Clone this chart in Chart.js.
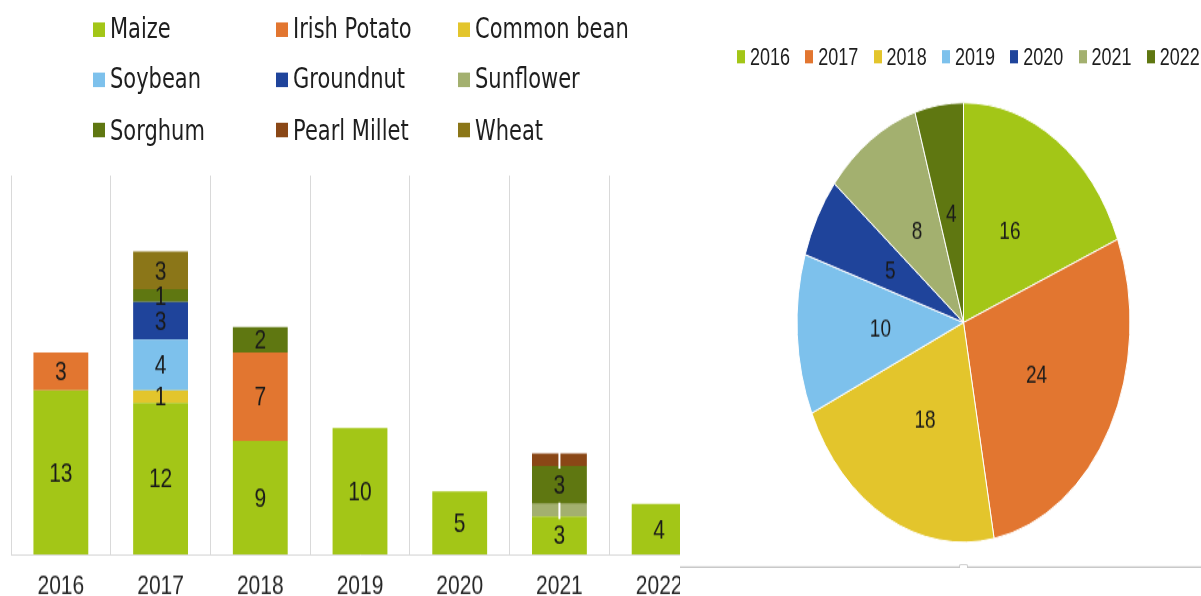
<!DOCTYPE html>
<html>
<head>
<meta charset="utf-8">
<script src="https://cdn.jsdelivr.net/npm/chart.js@4.4.0/dist/chart.umd.min.js"></script>
<style>
html, body { margin: 0; padding: 0; background: #fff; overflow: hidden; }
/* the source picture is stretched vertically, so the whole page is too */
#page { position: absolute; left: 0; top: 0; width: 1201px; height: 452px;
        transform: scaleY(1.32); transform-origin: 0 0; color: #1e1e1e; }
#barWrap { position: absolute; left: 0; top: 0; width: 720px; height: 460px; }
.legItem { position: absolute; display: flex; align-items: center; white-space: nowrap; }
#barLegend .legItem { font: 21px "DejaVu Sans", sans-serif; height: 24px; line-height: 24px; }
#barLegend .box { width: 12px; height: 11px; margin-right: 5px; }
#piePanel { position: absolute; left: 680px; top: 0; width: 521px; height: 452px; background: #fff; overflow: hidden; }
#pieWrap { position: absolute; left: 0; top: 0; width: 567px; height: 452px; }
#pieLegend .legItem { font: 18px "Liberation Sans", Arial, sans-serif; height: 20px; line-height: 20px; }
#pieLegend .box { width: 8px; height: 10px; margin-right: 5px; }
#pieLine { position: absolute; left: 0; top: 429px; width: 521px; border-top: 1px solid #c8c8c8; }
#notch { position: absolute; left: 279px; top: 427px; width: 7px; height: 2px; border: 1px solid #c8c8c8; border-bottom: none; border-radius: 2px 2px 0 0; background: #fff; }
</style>
</head>
<body>
<div id="page">
  <div id="barWrap"><canvas id="barChart"></canvas></div>
  <div id="barLegend"></div>
  <div id="piePanel">
    <div id="pieWrap"><canvas id="pieChart"></canvas></div>
    <div id="pieLine"></div>
    <div id="notch"></div>
  </div>
  <div id="pieLegend"></div>
</div>
<script>
const years = ['2016', '2017', '2018', '2019', '2020', '2021', '2022'];

const maize       = [13, 12, 9, 10, 5, 3, 4];
const irishPotato = [3, null, 7, null, null, null, null];
const commonBean  = [null, 1, null, null, null, null, null];
const soybean     = [null, 4, null, null, null, null, null];
const groundnut   = [null, 3, null, null, null, null, null];
const sunflower   = [null, null, null, null, null, 1, null];
const sorghum     = [null, 1, 2, null, null, 3, null];
const pearlMillet = [null, null, null, null, null, 1, null];
const wheat       = [null, 3, null, null, null, null, null];

const yearTotals = [16, 24, 18, 10, 5, 8, 4];

// labels that the original leaves out (a white leader mark instead)
const hiddenLabels = [['Sunflower', '2021'], ['Pearl Millet', '2021']];

const crops = [
    { label: 'Maize', data: maize, color: '#a3c617' },
    { label: 'Irish Potato', data: irishPotato, color: '#e27630' },
    { label: 'Common bean', data: commonBean, color: '#e3c52c' },
    { label: 'Soybean', data: soybean, color: '#7dc1ec' },
    { label: 'Groundnut', data: groundnut, color: '#1f449b' },
    { label: 'Sunflower', data: sunflower, color: '#a3b06f' },
    { label: 'Sorghum', data: sorghum, color: '#5f7711' },
    { label: 'Pearl Millet', data: pearlMillet, color: '#8a4716' },
    { label: 'Wheat', data: wheat, color: '#8b7618' }
];
const yearColors = ['#a3c617', '#e27630', '#e3c52c', '#7dc1ec', '#1f449b', '#a3b06f', '#5f7711'];

const valueLabels = {
    id: 'valueLabels',
    afterDatasetsDraw(chart, args, opts) {
        const ctx = chart.ctx;
        ctx.save();
        ctx.font = opts.font;
        ctx.fillStyle = '#1a1a1a';
        ctx.textAlign = 'center';
        ctx.textBaseline = 'middle';
        chart.data.datasets.forEach((ds, di) => {
            const meta = chart.getDatasetMeta(di);
            meta.data.forEach((el, i) => {
                const v = ds.data[i];
                if (v == null) return;
                const cat = chart.data.labels[i];
                const p = el.getCenterPoint();
                if (hiddenLabels.some(h => h[0] === ds.label && h[1] === cat)) {
                    ctx.fillStyle = '#fff';
                    ctx.fillRect(p.x - 1, Math.min(el.y, el.base) - 1, 2, Math.abs(el.base - el.y) + 3);
                    ctx.fillStyle = '#1a1a1a';
                    return;
                }
                ctx.fillText(String(v), p.x, p.y + opts.shift);
            });
        });
        ctx.restore();
    }
};

new Chart(document.getElementById('barChart'), {
    type: 'bar',
    data: {
        labels: years,
        datasets: crops.map(c => ({
            label: c.label,
            data: c.data,
            backgroundColor: c.color,
            borderWidth: 0,
            categoryPercentage: 1,
            barPercentage: 0.55
        }))
    },
    options: {
        responsive: true,
        maintainAspectRatio: false,
        animation: false,
        layout: { padding: { left: 11, right: 11, top: 133, bottom: 5 } },
        plugins: {
            legend: { display: false },
            tooltip: { enabled: false },
            valueLabels: { font: '21px "Liberation Sans", Arial, sans-serif', shift: 1 }
        },
        scales: {
            x: {
                stacked: true,
                grid: { offset: true, color: '#d9d9d9', drawTicks: false },
                border: { color: '#d9d9d9' },
                ticks: { color: '#262626', padding: 12, font: { family: '"Liberation Sans", Arial, sans-serif', size: 21 } },
                afterFit: s => { s.height = 35; }
            },
            y: { stacked: true, display: false, min: 0, max: 30 }
        }
    },
    plugins: [valueLabels]
});

new Chart(document.getElementById('pieChart'), {
    type: 'pie',
    data: {
        labels: years,
        datasets: [{ data: yearTotals, backgroundColor: yearColors, borderColor: '#fff', borderWidth: 1 }]
    },
    options: {
        responsive: true,
        maintainAspectRatio: false,
        animation: false,
        layout: { padding: { left: 116.5, right: 116.5, top: 77.3, bottom: 40.7 } },
        plugins: {
            legend: { display: false },
            tooltip: { enabled: false },
            valueLabels: { font: '19px "Liberation Sans", Arial, sans-serif', shift: 1 }
        }
    },
    plugins: [valueLabels]
});

// bar legend: three columns, as in the original
const barLegend = document.getElementById('barLegend');
const colX = [93, 276, 458];
const rowY = [22, 60.4, 98.6];
crops.forEach((c, i) => {
    const item = document.createElement('div');
    item.className = 'legItem';
    item.style.left = colX[i % 3] + 'px';
    item.style.top = (rowY[Math.floor(i / 3)] - 12) + 'px';
    item.innerHTML = '<span class="box" style="background:' + c.color + '"></span><span>' + c.label + '</span>';
    barLegend.appendChild(item);
});

const pieLegend = document.getElementById('pieLegend');
years.forEach((y, i) => {
    const item = document.createElement('div');
    item.className = 'legItem';
    item.style.left = (737 + 68.3 * i) + 'px';
    item.style.top = (43.2 - 10) + 'px';
    item.innerHTML = '<span class="box" style="background:' + yearColors[i] + '"></span><span>' + y + '</span>';
    pieLegend.appendChild(item);
});
</script>
</body>
</html>
